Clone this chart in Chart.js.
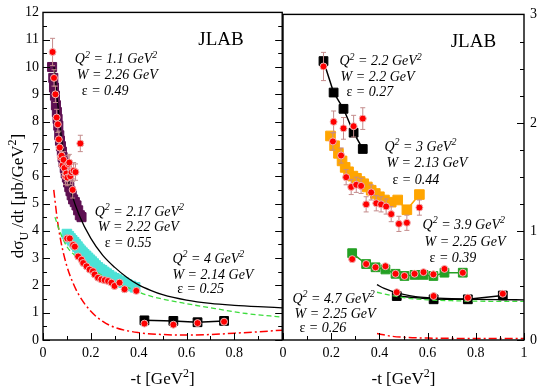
<!DOCTYPE html>
<html>
<head>
<meta charset="utf-8">
<script src="https://cdn.jsdelivr.net/npm/chart.js@4.4.0/dist/chart.umd.min.js"></script>
<style>
  html, body { margin: 0; padding: 0; background: #fff; }
  #wrap { position: relative; width: 540px; height: 389px; overflow: hidden; }
  canvas { position: absolute; top: 0; }
  #left { left: 0; }
  #right { left: 263px; }
</style>
</head>
<body>
<div id="wrap">
  <canvas id="left" width="290" height="389"></canvas>
  <canvas id="right" width="277" height="389"></canvas>
</div>
<script>
const SERIF = "'Liberation Serif', 'Times New Roman', serif";

// ---- left panel data (mub/GeV^2) ----
const q11SqT = [0.038,0.043,0.046,0.050,0.054,0.058,0.061,0.064,0.068,0.071,0.075,0.079,0.082,0.086,0.091,0.095,0.100,0.105,0.110,0.115,0.120,0.126,0.133,0.140,0.147,0.154,0.161];
const q11SqV = [10.0,9.6,9.25,8.95,8.6,8.35,8.1,7.85,7.5,7.3,7.1,6.9,6.7,6.5,6.3,6.1,5.95,5.77,5.6,5.45,5.3,5.15,5.05,4.93,4.75,4.57,4.5];
const q11T = [0.040,0.046,0.052,0.057,0.062,0.066,0.070,0.074,0.078,0.082,0.086,0.090,0.094,0.098,0.102,0.106,0.110,0.114,0.119,0.124,0.128,0.136,0.156];
const q11V = [10.55,9.6,9.0,8.15,7.9,7.35,7.05,6.7,6.75,6.4,6.6,6.3,6.0,6.1,5.95,6.45,6.5,6.0,6.15,5.5,6.2,6.15,7.2];
const q11E = [0.5,0.3,0.3,0.3,0.3,0.3,0.3,0.3,0.3,0.3,0.3,0.3,0.3,0.3,0.3,0.3,0.3,0.3,0.3,0.3,0.3,0.3,0.3];

const q217SqT = [0.100,0.108,0.115,0.122,0.130,0.137,0.144,0.151,0.158,0.165,0.172,0.180,0.188,0.196,0.204,0.212,0.220,0.229,0.238,0.247,0.256,0.266,0.276,0.287,0.298,0.310,0.323,0.337,0.352,0.368,0.385];
const q217SqV = [3.88,3.80,3.72,3.65,3.58,3.50,3.42,3.34,3.27,3.20,3.14,3.08,3.01,2.94,2.87,2.80,2.73,2.66,2.60,2.55,2.49,2.43,2.37,2.31,2.26,2.21,2.16,2.10,2.03,1.98,1.93];
const q217T = [0.101,0.112,0.126,0.133,0.147,0.161,0.168,0.182,0.195,0.209,0.216,0.230,0.244,0.258,0.272,0.286,0.299,0.320,0.341,0.390];
const q217V = [3.72,3.72,3.48,3.42,3.06,2.94,2.82,2.70,2.58,2.52,2.40,2.28,2.22,2.19,2.16,2.10,1.98,2.10,1.86,1.80];
const q217E = [0.12,0.1,0.1,0.1,0.1,0.1,0.1,0.1,0.1,0.1,0.1,0.1,0.1,0.1,0.1,0.1,0.1,0.1,0.1,0.1];

const q4T = [0.424,0.545,0.646,0.757];
const q4SqV = [0.72,0.70,0.65,0.70];
const q4V = [0.60,0.56,0.62,0.67];

const blackLT = [0.046,0.05,0.06,0.07,0.08,0.09,0.10,0.12,0.15,0.20,0.25,0.30,0.35,0.40,0.45,0.50,0.60,0.70,0.80,0.90,1.00];
const blackLV = [10.0,9.7,8.8,7.95,7.2,6.6,6.1,5.35,4.6,3.72,3.1,2.66,2.3,2.02,1.82,1.66,1.46,1.34,1.27,1.22,1.18];
const greenLT = [0.05,0.07,0.10,0.14,0.20,0.28,0.35,0.43,0.50,0.60,0.72,0.85,1.00];
const greenLV = [4.5,3.98,3.42,3.05,2.64,2.2,1.94,1.66,1.5,1.33,1.15,0.97,0.84];
const redLT = [0.045,0.06,0.075,0.10,0.125,0.15,0.20,0.25,0.30,0.40,0.50,0.60,0.70,0.80,0.90,1.00];
const redLV = [5.5,4.4,3.6,2.7,2.1,1.65,1.05,0.68,0.46,0.27,0.2,0.18,0.2,0.25,0.3,0.36];

// ---- right panel data (right axis units) ----
const q22T = [0.168,0.210,0.251,0.293,0.331];
const q22SqV = [2.57,2.28,2.13,1.91,1.76];
const q22V = [2.52,2.01,1.95,1.97,2.04];
const q22E = [0.13,0.1,0.1,0.1,0.1];

const q3SqT = [0.197,0.214,0.230,0.245,0.258,0.272,0.290,0.305,0.320,0.335,0.350,0.366,0.383,0.400,0.421,0.449,0.476,0.514,0.566];
const q3SqV = [1.88,1.79,1.72,1.65,1.59,1.55,1.51,1.49,1.46,1.44,1.41,1.38,1.35,1.32,1.29,1.27,1.29,1.20,1.34];
const q3T = [0.207,0.241,0.262,0.283,0.304,0.324,0.345,0.366,0.387,0.407,0.428,0.449,0.481,0.514,0.566];
const q3V = [1.83,1.70,1.50,1.41,1.43,1.42,1.25,1.36,1.26,1.25,1.23,1.16,1.07,1.08,1.22];
const q3E = [0.08,0.07,0.07,0.07,0.07,0.07,0.07,0.07,0.07,0.07,0.07,0.07,0.07,0.07,0.07];

const q39T = [0.287,0.345,0.384,0.425,0.467,0.504,0.546,0.583,0.624,0.670,0.746];
const q39SqV = [0.80,0.70,0.67,0.65,0.61,0.59,0.60,0.60,0.59,0.62,0.62];
const q39V = [0.745,0.70,0.67,0.68,0.61,0.59,0.61,0.625,0.605,0.655,0.62];

const q47T = [0.472,0.625,0.767,0.912];
const q47SqV = [0.405,0.375,0.375,0.41];
const q47V = [0.44,0.405,0.39,0.426];

const blackRT = [0.39,0.42,0.45,0.50,0.55,0.60,0.70,0.80,0.90,1.00];
const blackRV = [0.51,0.475,0.45,0.42,0.40,0.39,0.38,0.375,0.372,0.37];
const greenRT = [0.39,0.45,0.50,0.60,0.70,0.80,1.00];
const greenRV = [0.44,0.41,0.39,0.37,0.362,0.358,0.355];
const redRT = [0.39,0.45,0.50,0.60,0.70,0.80,1.00];
const redRV = [0.06,0.035,0.025,0.018,0.015,0.014,0.014];

const pts = (t, v) => t.map((x, i) => ({ x: x, y: v[i] }));

// rich text: mode 'i' italic, 'p' superscript, 'b' subscript
function segFont(mode, size) {
  const small = mode.includes('p') || mode.includes('b');
  const s = small ? Math.round(size * 0.68) : size;
  return (mode.includes('i') ? 'italic ' : '') + s + 'px ' + SERIF;
}
function drawRich(ctx, segs, x, y, size, align) {
  ctx.save();
  let total = 0;
  segs.forEach(([t, m]) => { ctx.font = segFont(m, size); total += ctx.measureText(t).width; });
  let cx = align === 'center' ? x - total / 2 : x;
  ctx.fillStyle = '#000';
  ctx.textAlign = 'left';
  ctx.textBaseline = 'alphabetic';
  segs.forEach(([t, m]) => {
    ctx.font = segFont(m, size);
    let dy = 0;
    if (m.includes('p')) dy = -size * 0.42;
    if (m.includes('b')) dy = size * 0.28;
    ctx.fillText(t, cx, y + dy);
    cx += ctx.measureText(t).width;
  });
  ctx.restore();
}
const qLine = v => [['Q', 'i'], ['2', 'ip'], [' = ' + v + ' GeV', 'i'], ['2', 'ip']];
const wLine = v => [['W = ' + v + ' GeV', 'i']];
const eLine = v => [['\u03b5', ''], [' = ' + v, 'i']];

// frame + inward ticks
const frameTicks = {
  id: 'frameTicks',
  afterDraw(chart, args, opts) {
    const { ctx, chartArea: a } = chart;
    ctx.save();
    ctx.strokeStyle = '#000';
    ctx.lineWidth = 1;
    (opts.sides || []).forEach(s => {
      const sc = chart.scales[s.scale];
      const n = Math.round((sc.max - sc.min) / s.minor);
      for (let i = 0; i <= n; i++) {
        const v = sc.min + i * s.minor;
        const major = Math.abs(v / s.major - Math.round(v / s.major)) < 1e-6;
        const len = major ? 7 : 4;
        const p = Math.round(sc.getPixelForValue(v)) + 0.5;
        ctx.beginPath();
        if (s.side === 'bottom') { ctx.moveTo(p, a.bottom); ctx.lineTo(p, a.bottom - len); }
        if (s.side === 'left') { ctx.moveTo(a.left, p); ctx.lineTo(a.left + len, p); }
        if (s.side === 'right') { ctx.moveTo(a.right, p); ctx.lineTo(a.right - len, p); }
        ctx.stroke();
      }
    });
    ctx.lineWidth = 1.4;
    ctx.strokeRect(a.left, a.top, a.right - a.left, a.bottom - a.top);
    ctx.restore();
  }
};

// vertical error bars drawn under their dataset
const errorBars = {
  id: 'errorBars',
  beforeDatasetDraw(chart, args) {
    const ds = chart.data.datasets[args.index];
    if (!ds.errors) return;
    const ctx = chart.ctx, xs = chart.scales.x, ys = chart.scales.y;
    ctx.save();
    ctx.strokeStyle = '#c48c8c';
    ctx.lineWidth = 1;
    ds.data.forEach((p, i) => {
      const x = xs.getPixelForValue(p.x);
      const y1 = ys.getPixelForValue(p.y - ds.errors[i]);
      const y2 = ys.getPixelForValue(p.y + ds.errors[i]);
      ctx.beginPath();
      ctx.moveTo(x, y1); ctx.lineTo(x, y2);
      ctx.moveTo(x - 2.5, y1); ctx.lineTo(x + 2.5, y1);
      ctx.moveTo(x - 2.5, y2); ctx.lineTo(x + 2.5, y2);
      ctx.stroke();
    });
    ctx.restore();
  }
};

// text notes placed in data coordinates + axis titles
const notes = {
  id: 'notes',
  afterDraw(chart, args, opts) {
    const ctx = chart.ctx, a = chart.chartArea;
    (opts.items || []).forEach(n => {
      drawRich(ctx, n.segs, chart.scales.x.getPixelForValue(n.x), chart.scales.y.getPixelForValue(n.y), n.size || 14, n.align);
    });
    drawRich(ctx, [['-t [GeV', ''], ['2', 'p'], [']', '']], (a.left + a.right) / 2, 384, 17, 'center');
    if (opts.yTitle) {
      ctx.save();
      ctx.translate(17, 196);
      ctx.rotate(-Math.PI / 2);
      drawRich(ctx, [['d\u03c3', ''], ['U', 'b'], [' /dt [\u03bcb/GeV', ''], ['2', 'p'], [']', '']], 0, 6, 17, 'center');
      ctx.restore();
    }
  }
};

const squares = (data, color, r, line) => ({
  data: data, showLine: !!line, borderColor: color, backgroundColor: color,
  pointStyle: 'rect', pointRadius: r, pointBorderWidth: 1, pointBorderColor: color,
  borderWidth: 1.5, order: 4
});
const dots = (data, errors) => ({
  data: data, errors: errors, showLine: false, pointStyle: 'circle', pointRadius: 3.5,
  backgroundColor: '#ff0000', pointBorderColor: '#f0b4b4', pointBorderWidth: 1, order: 1
});
const curve = (data, color, dash, w) => ({
  data: data, showLine: true, borderColor: color, borderWidth: w || 1.3, borderDash: dash || [],
  pointRadius: 0, cubicInterpolationMode: 'monotone', order: 3
});
const fmt = v => String(Math.round(v * 10) / 10);
const tickFont = { family: SERIF, size: 14 };

new Chart(document.getElementById('left'), {
  type: 'scatter',
  data: {
    datasets: [
      squares(pts(q11SqT, q11SqV), '#5e1052', 6.4),
      squares(pts(q217SqT, q217SqV), '#4ce2d6', 6.8),
      squares(pts(q4T, q4SqV), '#000000', 6.2, true),
      curve(pts(blackLT, blackLV), '#000000'),
      curve(pts(greenLT, greenLV), '#3ddc3d', [5, 3]),
      curve(pts(redLT, redLV), '#ff0000', [8, 3, 2, 3], 1.5),
      dots(pts(q11T, q11V), q11E),
      dots(pts(q217T, q217V), q217E),
      dots(pts(q4T, q4V), null)
    ]
  },
  options: {
    responsive: false, animation: false, events: [],
    layout: { padding: { top: 7, right: 7, left: 0, bottom: 0 } },
    scales: {
      x: {
        type: 'linear', min: 0, max: 1,
        grid: { display: false, drawTicks: false }, border: { display: false },
        ticks: { stepSize: 0.2, font: tickFont, color: '#000', padding: 5, maxRotation: 0,
                 callback: v => (v > 0.99 ? '' : fmt(v)) },
        afterFit: s => { s.height = 49; }
      },
      y: {
        min: 0, max: 12,
        grid: { display: false, drawTicks: false }, border: { display: false },
        ticks: { stepSize: 1, font: tickFont, color: '#000', padding: 4 },
        afterFit: s => { s.width = 43; }
      }
    },
    plugins: {
      legend: { display: false }, tooltip: { enabled: false },
      frameTicks: { sides: [
        { side: 'bottom', scale: 'x', major: 0.2, minor: 0.1 },
        { side: 'left', scale: 'y', major: 1, minor: 0.5 },
        { side: 'right', scale: 'y', major: 1, minor: 0.5 }
      ] },
      notes: { yTitle: true, items: [
        { x: 0.744, y: 10.81, segs: [['JLAB', '']], size: 19, align: 'center' },
        { x: 0.133, y: 10.13, segs: qLine('1.1') },
        { x: 0.141, y: 9.55, segs: wLine('2.26') },
        { x: 0.162, y: 8.97, segs: eLine('0.49') },
        { x: 0.216, y: 4.55, segs: qLine('2.17') },
        { x: 0.229, y: 3.98, segs: wLine('2.22') },
        { x: 0.258, y: 3.42, segs: eLine('0.55') },
        { x: 0.541, y: 2.81, segs: qLine('4') },
        { x: 0.541, y: 2.23, segs: wLine('2.14') },
        { x: 0.561, y: 1.73, segs: eLine('0.25') }
      ] }
    }
  },
  plugins: [frameTicks, errorBars, notes]
});

new Chart(document.getElementById('right'), {
  type: 'scatter',
  data: {
    datasets: [
      squares(pts(q22T, q22SqV), '#000000', 6.2, true),
      squares(pts(q3SqT, q3SqV), '#ffa500', 6.8, true),
      squares(pts(q39T, q39SqV), '#24a024', 6.2, true),
      squares(pts(q47T, q47SqV), '#000000', 6.2, true),
      curve(pts(blackRT, blackRV), '#000000'),
      curve(pts(greenRT, greenRV), '#3ddc3d', [5, 3]),
      curve(pts(redRT, redRV), '#ff0000', [8, 3, 2, 3], 1.5),
      dots(pts(q22T, q22V), q22E),
      dots(pts(q3T, q3V), q3E),
      dots(pts(q39T, q39V), null),
      dots(pts(q47T, q47V), null)
    ]
  },
  options: {
    responsive: false, animation: false, events: [],
    layout: { padding: { top: 7, right: 0, left: 20, bottom: 0 } },
    scales: {
      x: {
        type: 'linear', min: 0, max: 1,
        grid: { display: false, drawTicks: false }, border: { display: false },
        ticks: { stepSize: 0.2, font: tickFont, color: '#000', padding: 5, maxRotation: 0, callback: v => fmt(v) },
        afterFit: s => { s.height = 49; }
      },
      y: {
        position: 'right', min: 0, max: 3,
        grid: { display: false, drawTicks: false }, border: { display: false },
        ticks: { stepSize: 1, font: tickFont, color: '#000', padding: 6 },
        afterFit: s => { s.width = 16; }
      }
    },
    plugins: {
      legend: { display: false }, tooltip: { enabled: false },
      frameTicks: { sides: [
        { side: 'bottom', scale: 'x', major: 0.2, minor: 0.1 },
        { side: 'right', scale: 'y', major: 1, minor: 0.25 }
      ] },
      notes: { items: [
        { x: 0.79, y: 2.70, segs: [['JLAB', '']], size: 19, align: 'center' },
        { x: 0.234, y: 2.53, segs: qLine('2.2') },
        { x: 0.239, y: 2.39, segs: wLine('2.2') },
        { x: 0.263, y: 2.25, segs: eLine('0.27') },
        { x: 0.421, y: 1.74, segs: qLine('3') },
        { x: 0.429, y: 1.59, segs: wLine('2.13') },
        { x: 0.454, y: 1.44, segs: eLine('0.44') },
        { x: 0.579, y: 1.02, segs: qLine('3.9') },
        { x: 0.587, y: 0.865, segs: wLine('2.25') },
        { x: 0.608, y: 0.72, segs: eLine('0.39') },
        { x: 0.039, y: 0.34, segs: qLine('4.7') },
        { x: 0.048, y: 0.205, segs: wLine('2.25') },
        { x: 0.068, y: 0.07, segs: eLine('0.26') }
      ] }
    }
  },
  plugins: [frameTicks, errorBars, notes]
});
</script>
</body>
</html>
